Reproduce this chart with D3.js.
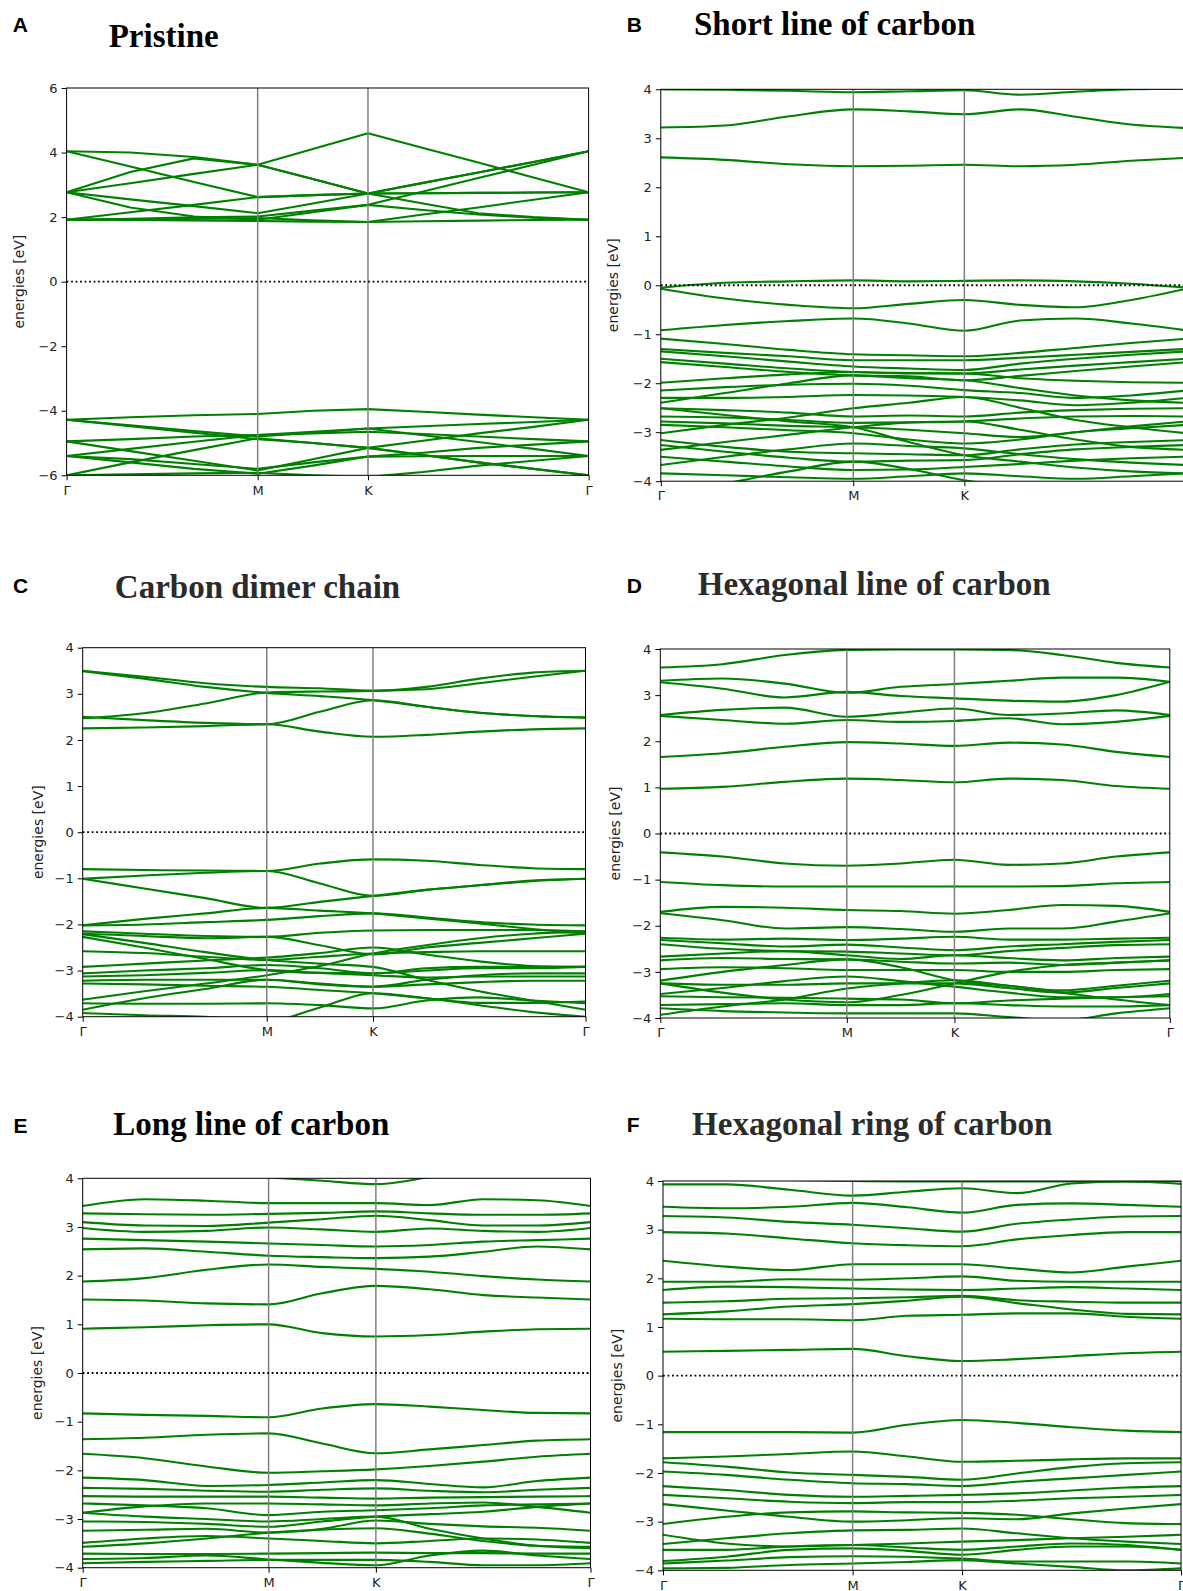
<!DOCTYPE html>
<html>
<head>
<meta charset="utf-8">
<script src="https://cdn.jsdelivr.net/npm/d3@7"></script>
<style>
  body { margin: 0; background: #fff; }
</style>
</head>
<body>
<div id="chart"></div>
<script>
// k-path Γ-M-K-Γ (distances along the path)
const kTicks = [0, 0.5774, 0.9107, 1.5774];
const kLabels = ["Γ", "M", "K", "Γ"];
// sample points: Γ, 1/3 ΓM, 2/3 ΓM, M, 1/2 MK, K, 1/4 KΓ, 1/2 KΓ, 3/4 KΓ, Γ
const kNodes = [0, 0.1925, 0.3849, 0.5774, 0.7440, 0.9107, 1.0774, 1.2440, 1.4107, 1.5774];

const ticksWide = [-6, -4, -2, 0, 2, 4, 6];
const ticksNarrow = [-4, -3, -2, -1, 0, 1, 2, 3, 4];

const titles = ["Pristine", "Short line of carbon", "Carbon dimer chain",
  "Hexagonal line of carbon", "Long line of carbon", "Hexagonal ring of carbon"];
const letters = ["A", "B", "C", "D", "E", "F"];

// energies [eV] of each band at the kNodes
const bandsPristine = [
  [4.04, 3.57, 3.09, 2.62, 2.68, 2.73, 3.06, 3.38, 3.71, 4.04],
  [4.04, 4.0, 3.86, 3.62, 4.11, 4.6, 4.14, 3.69, 3.23, 2.77],
  [2.77, 3.05, 3.34, 3.62, 3.18, 2.73, 2.74, 2.75, 2.76, 2.77],
  [2.77, 3.4, 3.82, 3.62, 3.18, 2.73, 3.06, 3.38, 3.71, 4.04],
  [2.77, 2.55, 2.34, 2.12, 2.42, 2.73, 2.42, 2.12, 2.0, 1.92],
  [2.77, 2.3, 2.02, 1.92, 2.15, 2.38, 2.79, 3.21, 3.62, 4.04],
  [1.92, 1.91, 1.9, 1.88, 1.86, 1.85, 1.87, 1.89, 1.91, 1.92],
  [1.92, 2.15, 2.38, 2.62, 2.68, 2.73, 2.74, 2.75, 2.76, 2.77],
  [1.92, 1.95, 1.99, 2.02, 2.2, 2.38, 2.22, 2.08, 1.98, 1.92],
  [1.92, 1.93, 1.95, 1.97, 1.9, 1.85, 2.08, 2.3, 2.54, 2.77],
  [-4.28, -4.2, -4.14, -4.1, -4.0, -3.95, -4.03, -4.12, -4.2, -4.28],
  [-4.28, -4.45, -4.63, -4.8, -4.68, -4.55, -4.48, -4.41, -4.35, -4.28],
  [-4.28, -4.48, -4.68, -4.88, -5.0, -5.15, -4.93, -4.7, -4.5, -4.28],
  [-4.95, -4.88, -4.8, -4.75, -4.7, -4.65, -4.72, -4.8, -4.88, -4.95],
  [-4.95, -5.25, -5.55, -5.85, -5.5, -5.15, -5.37, -5.6, -5.8, -6.0],
  [-5.4, -5.18, -4.96, -4.75, -4.65, -4.55, -4.76, -4.97, -5.18, -5.4],
  [-5.4, -5.6, -5.8, -5.95, -5.7, -5.42, -5.3, -5.15, -5.05, -4.95],
  [-5.4, -5.5, -5.65, -5.8, -5.6, -5.42, -5.41, -5.4, -5.4, -5.4],
  [-6.0, -5.6, -5.22, -4.85, -5.0, -5.15, -5.37, -5.6, -5.8, -6.0],
  [-6.0, -5.97, -5.94, -5.92, -6.0, -6.05, -5.9, -5.7, -5.55, -5.4]
];

const bandsShortLine = [
  [4.0, 3.99, 3.97, 3.94, 3.96, 3.98, 3.89, 3.95, 4.0, 4.02],
  [3.22, 3.26, 3.45, 3.59, 3.55, 3.49, 3.59, 3.44, 3.28, 3.21],
  [2.61, 2.56, 2.47, 2.43, 2.44, 2.46, 2.43, 2.46, 2.54, 2.6],
  [-0.05, 0.05, 0.08, 0.1, 0.08, 0.09, 0.1, 0.08, 0.03, -0.05],
  [-0.07, -0.27, -0.4, -0.47, -0.38, -0.3, -0.4, -0.45, -0.3, -0.07],
  [-0.92, -0.81, -0.73, -0.68, -0.78, -0.93, -0.72, -0.68, -0.78, -0.92],
  [-1.09, -1.2, -1.32, -1.41, -1.43, -1.45, -1.38, -1.28, -1.18, -1.09],
  [-1.3, -1.38, -1.45, -1.53, -1.53, -1.53, -1.48, -1.42, -1.36, -1.3],
  [-1.35, -1.45, -1.56, -1.66, -1.7, -1.73, -1.6, -1.5, -1.42, -1.35],
  [-1.5, -1.6, -1.7, -1.77, -1.79, -1.8, -1.72, -1.64, -1.57, -1.5],
  [-1.57, -1.67, -1.77, -1.84, -1.86, -1.94, -1.85, -1.75, -1.66, -1.57],
  [-1.99, -1.9, -1.82, -1.77, -1.8, -1.8, -1.9, -1.95, -1.98, -1.99],
  [-2.15, -2.08, -2.03, -2.01, -2.05, -2.14, -2.2, -2.3, -2.25, -2.15],
  [-2.3, -2.3, -2.28, -2.24, -2.25, -2.28, -2.35, -2.45, -2.4, -2.3],
  [-2.4, -2.2, -2.0, -1.84, -1.9, -1.94, -2.1, -2.25, -2.35, -2.4],
  [-2.51, -2.55, -2.6, -2.68, -2.66, -2.68, -2.6, -2.55, -2.52, -2.51],
  [-2.68, -2.7, -2.75, -2.81, -2.8, -2.78, -2.72, -2.68, -2.67, -2.68],
  [-2.78, -2.82, -2.87, -2.9, -2.95, -3.02, -3.1, -3.0, -2.88, -2.78],
  [-2.85, -2.9, -2.96, -3.02, -3.15, -3.23, -3.15, -3.0, -2.92, -2.85],
  [-3.02, -2.85, -2.7, -2.51, -2.4, -2.28, -2.5, -2.75, -2.9, -3.02],
  [-3.16, -3.3, -3.4, -3.43, -3.45, -3.47, -3.35, -3.25, -3.2, -3.16],
  [-3.26, -3.4, -3.52, -3.6, -3.58, -3.57, -3.45, -3.35, -3.3, -3.26],
  [-3.36, -3.2, -3.05, -2.9, -2.8, -2.78, -2.95, -3.15, -3.3, -3.36],
  [-3.5, -3.6, -3.7, -3.77, -3.76, -3.71, -3.65, -3.58, -3.53, -3.5],
  [-3.67, -3.5, -3.35, -3.23, -3.28, -3.33, -3.45, -3.55, -3.62, -3.67],
  [-3.84, -3.88, -3.92, -3.95, -3.9, -3.84, -3.9, -3.95, -3.9, -3.84],
  [-4.3, -4.05, -3.8, -3.6, -3.75, -3.98, -4.1, -4.2, -4.3, -4.3],
  [-2.51, -2.65, -2.78, -2.9, -3.2, -3.47, -3.6, -3.72, -3.8, -3.84]
];

const bandsDimer = [
  [3.5, 3.37, 3.23, 3.15, 3.12, 3.07, 3.1, 3.23, 3.37, 3.5],
  [3.49, 3.33, 3.15, 3.02, 2.95, 2.86, 2.72, 2.59, 2.52, 2.49],
  [2.47, 2.58, 2.79, 3.03, 3.05, 3.06, 3.15, 3.33, 3.46, 3.5],
  [2.5, 2.43, 2.37, 2.34, 2.61, 2.86, 2.72, 2.59, 2.52, 2.48],
  [2.25, 2.27, 2.3, 2.34, 2.18, 2.07, 2.11, 2.18, 2.23, 2.25],
  [-0.8, -0.82, -0.83, -0.84, -0.68, -0.59, -0.62, -0.71, -0.78, -0.8],
  [-1.01, -0.94, -0.88, -0.84, -1.11, -1.38, -1.25, -1.15, -1.05, -1.01],
  [-1.01, -1.22, -1.43, -1.64, -1.51, -1.38, -1.25, -1.15, -1.06, -1.01],
  [-2.02, -1.88, -1.76, -1.64, -1.7, -1.76, -1.87, -1.98, -2.1, -2.2],
  [-2.02, -2.0, -1.95, -1.9, -1.82, -1.76, -1.85, -1.95, -2.0, -2.02],
  [-2.15, -2.2, -2.25, -2.27, -2.18, -2.13, -2.12, -2.12, -2.12, -2.15],
  [-2.2, -2.25, -2.3, -2.27, -2.45, -2.65, -2.5, -2.4, -2.3, -2.2],
  [-2.58, -2.62, -2.7, -2.77, -2.7, -2.63, -2.6, -2.58, -2.58, -2.58],
  [-2.92, -2.85, -2.78, -2.72, -2.62, -2.5, -2.65, -2.8, -2.9, -2.92],
  [-3.06, -3.0, -2.95, -2.88, -2.95, -3.06, -3.0, -2.95, -2.95, -2.92],
  [-3.13, -3.1, -3.05, -2.99, -3.05, -3.1, -3.15, -3.13, -3.13, -3.13],
  [-3.22, -3.2, -3.2, -3.2, -3.28, -3.35, -3.3, -3.25, -3.22, -3.22],
  [-3.28, -3.3, -3.33, -3.35, -3.42, -3.49, -3.6, -3.7, -3.7, -3.67],
  [-3.63, -3.45, -3.28, -3.1, -2.9, -2.63, -2.45, -2.3, -2.2, -2.16],
  [-3.71, -3.72, -3.72, -3.71, -3.75, -3.82, -3.65, -3.58, -3.65, -3.71],
  [-3.85, -3.6, -3.4, -3.2, -3.3, -3.35, -3.2, -3.1, -3.06, -3.06],
  [-2.21, -2.4, -2.6, -2.77, -2.85, -2.92, -3.2, -3.45, -3.65, -3.85],
  [-3.92, -3.97, -4.0, -4.1, -3.8, -3.49, -3.6, -3.75, -3.9, -4.0],
  [-2.27, -2.5, -2.75, -2.99, -3.05, -3.06, -2.95, -2.92, -2.92, -2.92]
];

const bandsHexLine = [
  [3.6, 3.67, 3.87, 3.98, 3.99, 3.99, 3.98, 3.87, 3.7, 3.6],
  [3.31, 3.36, 3.25, 3.05, 3.18, 3.24, 3.31, 3.38, 3.38, 3.29],
  [3.28, 3.14, 2.95, 3.07, 2.98, 2.93, 2.88, 2.86, 3.0, 3.29],
  [2.57, 2.68, 2.73, 2.53, 2.62, 2.71, 2.57, 2.6, 2.67, 2.57],
  [2.55, 2.46, 2.38, 2.46, 2.42, 2.44, 2.5, 2.37, 2.42, 2.55],
  [1.66, 1.74, 1.88, 1.98, 1.95, 1.9, 1.97, 1.93, 1.77, 1.66],
  [0.97, 1.01, 1.12, 1.19, 1.16, 1.11, 1.19, 1.16, 1.03, 0.97],
  [-0.41, -0.5, -0.65, -0.7, -0.65, -0.57, -0.68, -0.65, -0.5, -0.41],
  [-1.05, -1.12, -1.15, -1.15, -1.15, -1.15, -1.15, -1.14, -1.08, -1.05],
  [-1.7, -1.59, -1.61, -1.66, -1.68, -1.74, -1.66, -1.55, -1.57, -1.7],
  [-1.73, -1.88, -2.06, -2.03, -2.07, -2.13, -2.06, -2.06, -1.91, -1.73],
  [-2.26, -2.3, -2.28, -2.31, -2.28, -2.24, -2.3, -2.3, -2.28, -2.26],
  [-2.31, -2.38, -2.45, -2.41, -2.47, -2.53, -2.45, -2.4, -2.35, -2.31],
  [-2.4, -2.5, -2.55, -2.56, -2.6, -2.64, -2.55, -2.48, -2.42, -2.4],
  [-2.67, -2.6, -2.55, -2.64, -2.72, -2.64, -2.7, -2.75, -2.7, -2.67],
  [-2.75, -2.7, -2.72, -2.73, -2.78, -2.82, -2.8, -2.85, -2.8, -2.75],
  [-2.94, -2.9, -2.92, -2.96, -2.96, -2.96, -3.0, -3.0, -2.96, -2.94],
  [-3.19, -3.0, -2.85, -2.73, -2.9, -3.18, -3.3, -3.4, -3.3, -3.19],
  [-3.25, -3.28, -3.28, -3.25, -3.25, -3.25, -3.35, -3.45, -3.35, -3.25],
  [-3.48, -3.35, -3.2, -3.1, -3.2, -3.32, -3.45, -3.55, -3.55, -3.48],
  [-3.53, -3.55, -3.56, -3.58, -3.6, -3.68, -3.62, -3.58, -3.55, -3.53],
  [-3.72, -3.7, -3.68, -3.72, -3.72, -3.68, -3.72, -3.75, -3.75, -3.72],
  [-3.79, -3.85, -3.88, -3.9, -3.9, -3.9, -3.98, -4.05, -3.9, -3.79],
  [-3.93, -3.75, -3.6, -3.36, -3.25, -3.18, -3.3, -3.45, -3.6, -3.72],
  [-3.25, -3.45, -3.6, -3.66, -3.5, -3.25, -3.0, -2.85, -2.8, -2.75]
];

const bandsLongLine = [
  [4.3, 4.2, 4.1, 4.02, 3.95, 3.88, 4.02, 4.15, 4.25, 4.3],
  [3.43, 3.57, 3.54, 3.49, 3.49, 3.49, 3.45, 3.57, 3.55, 3.43],
  [3.28, 3.26, 3.25, 3.27, 3.29, 3.32, 3.28, 3.25, 3.25, 3.28],
  [3.1, 3.03, 3.02, 3.09, 3.16, 3.23, 3.14, 3.03, 3.03, 3.1],
  [2.98, 2.9, 2.92, 2.99, 2.95, 2.9, 2.97, 2.92, 2.9, 2.98],
  [2.76, 2.73, 2.7, 2.66, 2.63, 2.6, 2.63, 2.7, 2.73, 2.76],
  [2.54, 2.56, 2.49, 2.41, 2.38, 2.36, 2.39, 2.49, 2.6, 2.54],
  [1.88, 1.95, 2.12, 2.23, 2.18, 2.14, 2.08, 1.99, 1.92, 1.88],
  [1.51, 1.49, 1.43, 1.41, 1.64, 1.79, 1.72, 1.6, 1.55, 1.51],
  [0.91, 0.94, 0.98, 1.0, 0.82, 0.75, 0.78, 0.85, 0.9, 0.91],
  [-0.83, -0.86, -0.88, -0.91, -0.73, -0.64, -0.69, -0.76, -0.82, -0.83],
  [-1.36, -1.33, -1.27, -1.24, -1.45, -1.65, -1.57, -1.48, -1.39, -1.36],
  [-1.66, -1.75, -1.92, -2.05, -2.02, -1.98, -1.91, -1.82, -1.72, -1.66],
  [-2.15, -2.2, -2.32, -2.3, -2.25, -2.2, -2.28, -2.35, -2.22, -2.15],
  [-2.36, -2.38, -2.42, -2.44, -2.4, -2.37, -2.42, -2.45, -2.4, -2.36],
  [-2.53, -2.54, -2.54, -2.54, -2.56, -2.58, -2.56, -2.55, -2.54, -2.53],
  [-2.68, -2.72, -2.78, -2.92, -2.85, -2.82, -2.78, -2.72, -2.7, -2.68],
  [-2.87, -2.74, -2.68, -2.68, -2.7, -2.72, -2.68, -2.66, -2.75, -2.87],
  [-3.05, -3.06, -3.1, -3.16, -3.05, -2.95, -2.9, -2.85, -2.75, -2.68],
  [-3.24, -3.22, -3.2, -3.28, -3.2, -3.03, -3.1, -3.15, -3.18, -3.24],
  [-3.49, -3.4, -3.35, -3.4, -3.45, -3.5, -3.45, -3.4, -3.42, -3.49],
  [-3.57, -3.5, -3.4, -3.28, -3.22, -3.19, -3.3, -3.45, -3.55, -3.57],
  [-3.71, -3.72, -3.72, -3.71, -3.7, -3.69, -3.7, -3.7, -3.71, -3.71],
  [-3.82, -3.8, -3.75, -3.83, -3.9, -3.95, -3.75, -3.65, -3.75, -3.82],
  [-3.91, -3.88, -3.86, -3.84, -3.84, -3.84, -3.88, -3.95, -3.95, -3.91],
  [-2.87, -2.95, -3.0, -3.05, -3.0, -2.95, -3.2, -3.4, -3.55, -3.6]
];

const bandsHexRing = [
  [3.93, 3.93, 3.82, 3.7, 3.78, 3.85, 3.75, 3.95, 3.99, 3.94],
  [4.06, 4.04, 4.02, 4.0, 3.99, 3.99, 3.99, 3.99, 3.99, 4.0],
  [3.47, 3.44, 3.47, 3.55, 3.46, 3.35, 3.51, 3.54, 3.51, 3.47],
  [3.28, 3.25, 3.16, 3.1, 3.03, 2.96, 3.12, 3.21, 3.27, 3.28],
  [2.95, 2.92, 2.82, 2.72, 2.68, 2.66, 2.8, 2.89, 2.95, 2.95],
  [2.36, 2.24, 2.17, 2.29, 2.29, 2.29, 2.2, 2.12, 2.24, 2.36],
  [1.93, 1.93, 1.98, 1.97, 2.0, 2.04, 1.95, 1.93, 1.93, 1.93],
  [1.76, 1.83, 1.82, 1.79, 1.77, 1.76, 1.79, 1.82, 1.79, 1.76],
  [1.5, 1.53, 1.58, 1.59, 1.61, 1.64, 1.55, 1.52, 1.5, 1.5],
  [1.26, 1.32, 1.42, 1.47, 1.54, 1.62, 1.49, 1.36, 1.27, 1.26],
  [1.17, 1.16, 1.16, 1.14, 1.23, 1.25, 1.28, 1.28, 1.21, 1.17],
  [0.49, 0.51, 0.53, 0.55, 0.4, 0.3, 0.34, 0.4, 0.46, 0.49],
  [-1.16, -1.16, -1.16, -1.17, -1.01, -0.91, -0.97, -1.06, -1.13, -1.16],
  [-1.7, -1.66, -1.61, -1.56, -1.66, -1.77, -1.75, -1.72, -1.7, -1.7],
  [-1.78, -1.87, -1.99, -2.04, -2.08, -2.14, -2.01, -1.88, -1.8, -1.78],
  [-1.97, -2.04, -2.14, -2.21, -2.23, -2.27, -2.18, -2.11, -2.04, -1.97],
  [-2.27, -2.35, -2.45, -2.49, -2.47, -2.45, -2.42, -2.36, -2.3, -2.27],
  [-2.45, -2.52, -2.59, -2.62, -2.6, -2.6, -2.57, -2.52, -2.49, -2.45],
  [-2.64, -2.77, -2.9, -3.0, -2.97, -2.93, -2.95, -2.83, -2.73, -2.64],
  [-3.05, -2.9, -2.81, -2.79, -2.81, -2.82, -2.86, -2.95, -3.03, -3.05],
  [-3.27, -3.45, -3.51, -3.48, -3.45, -3.41, -3.38, -3.34, -3.31, -3.27],
  [-3.46, -3.34, -3.24, -3.18, -3.17, -3.14, -3.24, -3.34, -3.41, -3.46],
  [-3.58, -3.58, -3.51, -3.48, -3.53, -3.58, -3.51, -3.45, -3.48, -3.58],
  [-3.81, -3.72, -3.58, -3.55, -3.6, -3.68, -3.58, -3.51, -3.51, -3.58],
  [-3.86, -3.8, -3.73, -3.71, -3.72, -3.76, -3.82, -3.82, -3.82, -3.86],
  [-3.96, -3.95, -3.89, -3.86, -3.83, -3.79, -3.86, -3.93, -4.0, -3.96]
];

const allBands = [bandsPristine, bandsShortLine, bandsDimer, bandsHexLine, bandsLongLine, bandsHexRing];
const allTicks = [ticksWide, ticksNarrow, ticksNarrow, ticksNarrow, ticksNarrow, ticksNarrow];

// frame boxes and text anchors (page layout)
const layout = [
  { x0: 66.6, x1: 588.6, y0: 88, y1: 475.3, lx: 12.7, ly: 32.3, tx: 108.7, ty: 46.7, yl: 19, dark: false, straight: true },
  { x0: 660.8, x1: 1186.6, y0: 89.3, y1: 481.2, lx: 626.7, ly: 31.7, tx: 694, ty: 35, yl: 613.4, dark: false },
  { x0: 82.7, x1: 585.5, y0: 647.7, y1: 1016.7, lx: 13, ly: 593.3, tx: 114.8, ty: 598.3, yl: 38.3, dark: true },
  { x0: 660.3, x1: 1169.8, y0: 649, y1: 1018, lx: 626.7, ly: 593.3, tx: 697.8, ty: 595, yl: 614.6, dark: true },
  { x0: 82.7, x1: 590.5, y0: 1178.3, y1: 1567.7, lx: 13.4, ly: 1132.7, tx: 113.3, ty: 1135, yl: 37.1, dark: false },
  { x0: 663, x1: 1181, y0: 1181, y1: 1570.3, lx: 626.7, ly: 1132.3, tx: 692.1, ty: 1135, yl: 617.2, dark: true }
];

const width = 1183, height = 1591;
const svg = d3.select("#chart").append("svg")
  .attr("width", width)
  .attr("height", height)
  .style("display", "block")
  .style("background", "#fff");

const minus = d => (d < 0 ? "\u2212" + Math.abs(d) : String(d));

layout.forEach((p, i) => {
  const ticks = allTicks[i];
  const x = d3.scaleLinear().domain([kTicks[0], kTicks[3]]).range([p.x0, p.x1]);
  const y = d3.scaleLinear().domain([ticks[0], ticks[ticks.length - 1]]).range([p.y1, p.y0]);
  const g = svg.append("g");

  g.append("clipPath").attr("id", "clip" + i)
    .append("rect")
    .attr("x", p.x0).attr("y", p.y0)
    .attr("width", p.x1 - p.x0).attr("height", p.y1 - p.y0);

  // bands (pristine bands are folded free-electron lines with sharp kinks)
  const line = d3.line()
    .x((d, j) => x(kNodes[j]))
    .y(d => y(d))
    .curve(p.straight ? d3.curveLinear : d3.curveMonotoneX);

  g.append("g").attr("clip-path", "url(#clip" + i + ")")
    .selectAll("path")
    .data(allBands[i])
    .enter()
    .append("path")
    .attr("d", line)
    .attr("fill", "none")
    .attr("stroke", "#008000")
    .attr("stroke-width", 2.1)
    .attr("stroke-linejoin", "round");

  // high-symmetry lines at M and K
  g.selectAll(".sym")
    .data(kTicks.slice(1, 3))
    .enter()
    .append("line")
    .attr("x1", d => x(d)).attr("x2", d => x(d))
    .attr("y1", p.y0).attr("y2", p.y1)
    .attr("stroke", "#808080")
    .attr("stroke-width", 1.5);

  // Fermi level
  g.append("line")
    .attr("x1", p.x0).attr("x2", p.x1)
    .attr("y1", y(0)).attr("y2", y(0))
    .attr("stroke", "#000")
    .attr("stroke-width", 1.8)
    .attr("stroke-dasharray", "1.8,2.7");

  g.append("rect")
    .attr("x", p.x0).attr("y", p.y0)
    .attr("width", p.x1 - p.x0).attr("height", p.y1 - p.y0)
    .attr("fill", "none")
    .attr("stroke", "#000")
    .attr("stroke-width", 1);

  // axes
  const yAxis = g.append("g")
    .attr("transform", "translate(" + p.x0 + ",0)")
    .call(d3.axisLeft(y).tickValues(ticks).tickFormat(minus).tickSize(5).tickPadding(4));
  const xAxis = g.append("g")
    .attr("transform", "translate(0," + p.y1 + ")")
    .call(d3.axisBottom(x).tickValues(kTicks).tickFormat((d, j) => kLabels[j]).tickSize(5).tickPadding(5));
  [yAxis, xAxis].forEach(a => {
    a.select(".domain").remove();
    a.selectAll("line").attr("stroke", "#000");
    a.selectAll("text")
      .attr("fill", "#222")
      .style("font-family", "'DejaVu Sans', sans-serif")
      .style("font-size", "13px");
  });

  g.append("text")
    .attr("transform", "translate(" + p.yl + "," + ((p.y0 + p.y1) / 2) + ") rotate(-90)")
    .attr("text-anchor", "middle")
    .attr("dominant-baseline", "central")
    .attr("fill", "#222")
    .style("font-family", "'DejaVu Sans', sans-serif")
    .style("font-size", "14px")
    .text("energies [eV]");

  // panel letter and title
  g.append("text")
    .attr("x", p.lx).attr("y", p.ly)
    .style("font-family", "'Liberation Sans', Arial, sans-serif")
    .style("font-weight", "bold")
    .style("font-size", "21px")
    .text(letters[i]);

  g.append("text")
    .attr("x", p.tx).attr("y", p.ty)
    .attr("fill", p.dark ? "#2b2b2b" : "#000")
    .style("font-family", "'Liberation Serif', 'Times New Roman', serif")
    .style("font-weight", "bold")
    .style("font-size", "33px")
    .text(titles[i]);
});
</script>
</body>
</html>
